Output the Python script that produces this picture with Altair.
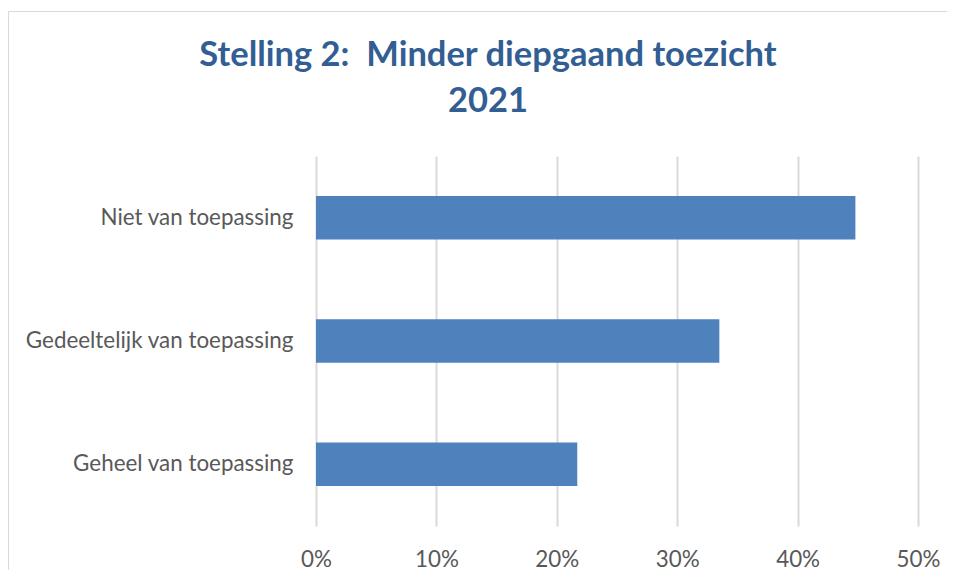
import altair as alt
import pandas as pd

categories = ["Niet van toepassing", "Gedeeltelijk van toepassing", "Geheel van toepassing"]
values = [0.448, 0.335, 0.217]
tick_values = [0.0, 0.1, 0.2, 0.3, 0.4, 0.5]
title_lines = ["Stelling 2:\u00a0 Minder diepgaand toezicht", "2021"]

df = pd.DataFrame({"categorie": categories, "aandeel": values})
frame_df = pd.DataFrame({"f": [0]})

FONT = "Lato"
GRAY = "#595959"

bars = alt.Chart(df).mark_bar(color="#4F81BD").encode(
    x=alt.X(
        "aandeel:Q",
        scale=alt.Scale(domain=[0, 0.5], nice=False),
        axis=alt.Axis(
            values=tick_values,
            format=".0%",
            title=None,
            domain=False,
            ticks=False,
            grid=True,
            gridColor="#D9D9D9",
            gridWidth=2,
            labelFont=FONT,
            labelFontSize=22.4,
            labelColor=GRAY,
            labelPadding=22,
            labelFlush=False,
        ),
    ),
    y=alt.Y(
        "categorie:N",
        sort=categories,
        scale=alt.Scale(paddingInner=0.647, paddingOuter=0.3235),
        axis=alt.Axis(
            title=None,
            domain=False,
            ticks=False,
            grid=False,
            labelFont=FONT,
            labelFontSize=22.4,
            labelColor=GRAY,
            labelPadding=23,
            labelLimit=400,
        ),
    ),
)

frame = alt.Chart(frame_df).mark_rect(
    fillOpacity=0, stroke="#D9D9D9", strokeWidth=1
).encode(
    x=alt.value(-307.5),
    x2=alt.value(800),
    y=alt.value(-144.5),
    y2=alt.value(600),
)

chart = alt.layer(frame, bars).properties(
    width=602,
    height=370,
    autosize=alt.AutoSizeParams(type="none"),
    padding={"left": 308, "top": 148, "right": 29, "bottom": 44},
    title=alt.TitleParams(
        text=title_lines,
        font=FONT,
        fontSize=34.5,
        fontWeight="bold",
        color="#325E93",
        anchor="middle",
        lineHeight=46,
        dx=-129,
        offset=-108,
    ),
).configure(background="white").configure_view(stroke=None)

chart.save("out.html", embed_options={"renderer": "svg", "actions": False})
